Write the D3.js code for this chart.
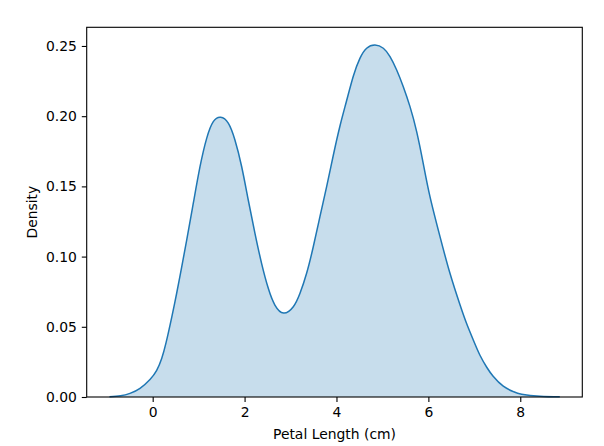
<!DOCTYPE html>
<html><head><meta charset="utf-8">
<script src="https://cdn.jsdelivr.net/npm/d3@7"></script>
<style>body{margin:0;background:#fff}svg{display:block}text{font-family:"DejaVu Sans",sans-serif}</style>
</head><body><svg id="c" width="604" height="446"></svg>
<script>
// Density curve of petal length
const petalLength = [-0.94,-0.7,-0.494,-0.276,-0.059,0.087,0.196,0.29,0.413,0.522,0.631,0.74,0.884,1.03,1.175,1.319,1.48,1.645,1.79,1.937,2.08,2.226,2.37,2.516,2.66,2.85,3.06,3.206,3.35,3.495,3.64,3.787,3.93,4.076,4.22,4.366,4.51,4.657,4.838,5.02,5.165,5.31,5.454,5.6,5.745,5.89,6.035,6.253,6.47,6.69,6.83,6.977,7.12,7.27,7.41,7.63,7.85,8.03,8.43,8.86];
const density = [0.0002,0.0009,0.0026,0.0062,0.0125,0.019,0.0275,0.0385,0.0565,0.0739,0.0925,0.1118,0.138,0.164,0.1842,0.1961,0.1992,0.195,0.183,0.164,0.1403,0.1166,0.0952,0.0774,0.0655,0.0598,0.0643,0.0739,0.0881,0.107,0.1284,0.150,0.172,0.193,0.211,0.2285,0.2412,0.2484,0.2507,0.2484,0.2424,0.2329,0.221,0.2068,0.189,0.166,0.1427,0.1142,0.0881,0.0655,0.0525,0.0406,0.0299,0.0212,0.0148,0.0077,0.0038,0.002,0.0005,0.0001];
const xTicks = [0,2,4,6,8];
const yTicks = [0,0.05,0.10,0.15,0.20,0.25];
const xLabel = "Petal Length (cm)";
const yLabel = "Density";

const data = petalLength.map((x,i)=>({x, y: density[i]}));
const L=86.7, R=582.3, T=27.3, B=397;
const x = d3.scaleLinear().domain([-1.436, 9.35]).range([L,R]);
const y = d3.scaleLinear().domain([0, 0.2633]).range([B,T]);
const svg = d3.select("#c");
const col = "#1f77b4";

const curve = d3.curveNatural;
const area = d3.area().x(d=>x(d.x)).y0(y(0)).y1(d=>y(d.y)).curve(curve);
const line = d3.line().x(d=>x(d.x)).y(d=>y(d.y)).curve(curve);
svg.append("path").datum(data).attr("d",area).attr("fill",col).attr("fill-opacity",0.25);
svg.append("path").datum(data).attr("d",line).attr("fill","none").attr("stroke",col).attr("stroke-width",1.5);

const xa = d3.axisBottom(x).tickValues(xTicks).tickFormat(d3.format("d")).tickSize(4.9).tickPadding(4.9);
const ya = d3.axisLeft(y).tickValues(yTicks).tickFormat(d3.format(".2f")).tickSize(4.9).tickPadding(4.9);
const gx = svg.append("g").attr("transform",`translate(0,${B})`).call(xa);
const gy = svg.append("g").attr("transform",`translate(${L},0)`).call(ya);
[gx,gy].forEach(g=>{
  g.select(".domain").remove();
  g.selectAll(".tick line").attr("stroke","#000").attr("stroke-width",1.1);
  g.selectAll(".tick text").attr("fill","#000").style("font-size","13.9px").style("font-family","DejaVu Sans");
});
svg.append("rect").attr("x",L).attr("y",T).attr("width",R-L).attr("height",B-T)
  .attr("fill","none").attr("stroke","#000").attr("stroke-width",1.1);

svg.append("text").attr("x",(L+R)/2).attr("y",439).attr("text-anchor","middle")
  .style("font-size","13.9px").text(xLabel);
svg.append("text").attr("transform",`translate(37,${(T+B)/2}) rotate(-90)`).attr("text-anchor","middle")
  .style("font-size","13.9px").text(yLabel);
</script></body></html>
